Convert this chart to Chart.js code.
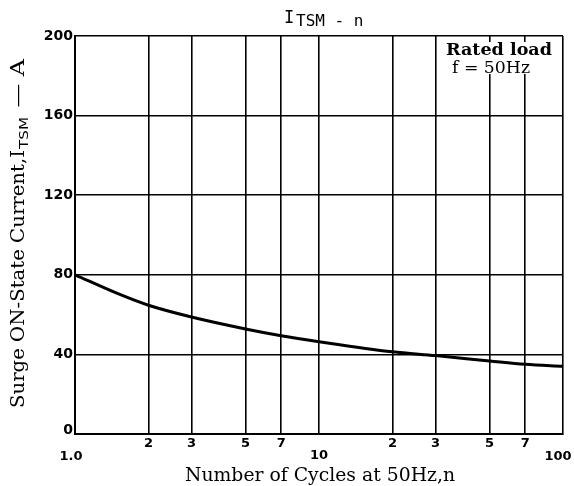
<!DOCTYPE html>
<html>
<head>
<meta charset="utf-8">
<script src="https://cdn.jsdelivr.net/npm/chart.js@4"></script>
<style>
  html, body { margin: 0; padding: 0; background: #fff; }
  #wrap { width: 574px; height: 486px; }
</style>
</head>
<body>
<div id="wrap"><canvas id="itsmChart" width="574" height="486"></canvas></div>
<script>
const cycles = [1, 1.5, 2, 3, 5, 7, 10, 20, 30, 50, 70, 100];
const surgeCurrent = [80, 70.5, 64.7, 58.8, 52.8, 49.4, 46.4, 41.3, 39.4, 36.7, 35, 34];
const xTicks = [1, 2, 3, 5, 7, 10, 20, 30, 50, 70, 100];
const xTickLabels = ['1.0', '2', '3', '5', '7', '10', '2', '3', '5', '7', '100'];
const xTickDrop = [23, 10, 10, 10, 10, 22, 10, 10, 10, 10, 23];
const yTicks = [0, 40, 80, 120, 160, 200];

const SERIF = '"DejaVu Serif", "Liberation Serif", serif';

// draw text squeezed/stretched to a given width (the scan uses a wide serif)
function fitText(ctx, text, x, y, width, font, align) {
    ctx.font = font;
    const w = ctx.measureText(text).width;
    const s = width / w;
    ctx.save();
    ctx.translate(x, y);
    ctx.scale(s, 1);
    ctx.textAlign = align || 'left';
    ctx.fillText(text, 0, 0);
    ctx.restore();
}

const textPlugin = {
    id: 'textPlugin',
    afterDraw(chart) {
        const ctx = chart.ctx;
        const xs = chart.scales.x;
        const ys = chart.scales.y;
        const area = chart.chartArea;
        ctx.save();
        ctx.fillStyle = '#000';

        // y tick labels
        ctx.font = 'bold 14px "DejaVu Sans", sans-serif';
        ctx.textAlign = 'right';
        ctx.textBaseline = 'middle';
        yTicks.forEach(v => {
            const py = v === 0 ? ys.getPixelForValue(v) - 4 : ys.getPixelForValue(v);
            ctx.fillText(String(v), area.left - 2, py);
        });

        // x tick labels, staggered like the original
        ctx.font = 'bold 13px "DejaVu Sans", sans-serif';
        ctx.textAlign = 'center';
        xTicks.forEach((v, i) => {
            let px = xs.getPixelForValue(v);
            if (i === 0) px -= 4;
            if (i === xTicks.length - 1) px -= 5;
            ctx.fillText(xTickLabels[i], px, area.bottom + xTickDrop[i]);
        });

        // title
        ctx.textBaseline = 'alphabetic';
        ctx.textAlign = 'left';
        ctx.font = '17px "DejaVu Sans Mono", monospace';
        ctx.fillText('I', 284, 23);
        ctx.font = '16px "DejaVu Sans Mono", monospace';
        ctx.fillText('TSM - n', 296, 26);

        // x axis title
        fitText(ctx, 'Number of Cycles at 50Hz,n', 185, 481, 270, '18px ' + SERIF);

        // y axis title
        ctx.save();
        ctx.translate(24, 408);
        ctx.rotate(-Math.PI / 2);
        const main = 'Surge ON-State Current,I';
        const sub = 'TSM';
        const tail = ' \u2014 A';
        fitText(ctx, main, 0, 0, 258, '18px ' + SERIF);
        fitText(ctx, sub, 259, 4, 32, '12px "DejaVu Sans", sans-serif');
        fitText(ctx, tail, 293, 0, 56, '18px ' + SERIF);
        ctx.restore();

        // condition box
        ctx.fillStyle = '#fff';
        ctx.fillRect(443, 42, 114, 32);
        ctx.fillStyle = '#000';
        fitText(ctx, 'Rated load', 446, 55, 106, 'bold 16px ' + SERIF);
        fitText(ctx, 'f = 50Hz', 452, 73, 78, '16px ' + SERIF);
        ctx.restore();
    }
};

new Chart(document.getElementById('itsmChart').getContext('2d'), {
    type: 'line',
    data: {
        labels: cycles,
        datasets: [{
            data: cycles.map((c, i) => ({ x: c, y: surgeCurrent[i] })),
            borderColor: '#000',
            borderWidth: 3,
            pointRadius: 0,
            fill: false,
            cubicInterpolationMode: 'monotone'
        }]
    },
    options: {
        responsive: false,
        animation: false,
        layout: { padding: { left: 75, right: 11, top: 36, bottom: 52 } },
        plugins: { legend: { display: false }, tooltip: { enabled: false } },
        scales: {
            x: {
                type: 'logarithmic',
                min: 1,
                max: 100,
                afterBuildTicks: scale => { scale.ticks = xTicks.map(v => ({ value: v })); },
                ticks: { display: false },
                grid: { color: '#000', lineWidth: 1.6, drawTicks: false },
                border: { color: '#000', width: 2 }
            },
            y: {
                type: 'linear',
                min: 0,
                max: 200,
                afterBuildTicks: scale => { scale.ticks = yTicks.map(v => ({ value: v })); },
                ticks: { display: false },
                grid: { color: '#000', lineWidth: 1.6, drawTicks: false },
                border: { color: '#000', width: 2 }
            }
        }
    },
    plugins: [textPlugin]
});
</script>
</body>
</html>
